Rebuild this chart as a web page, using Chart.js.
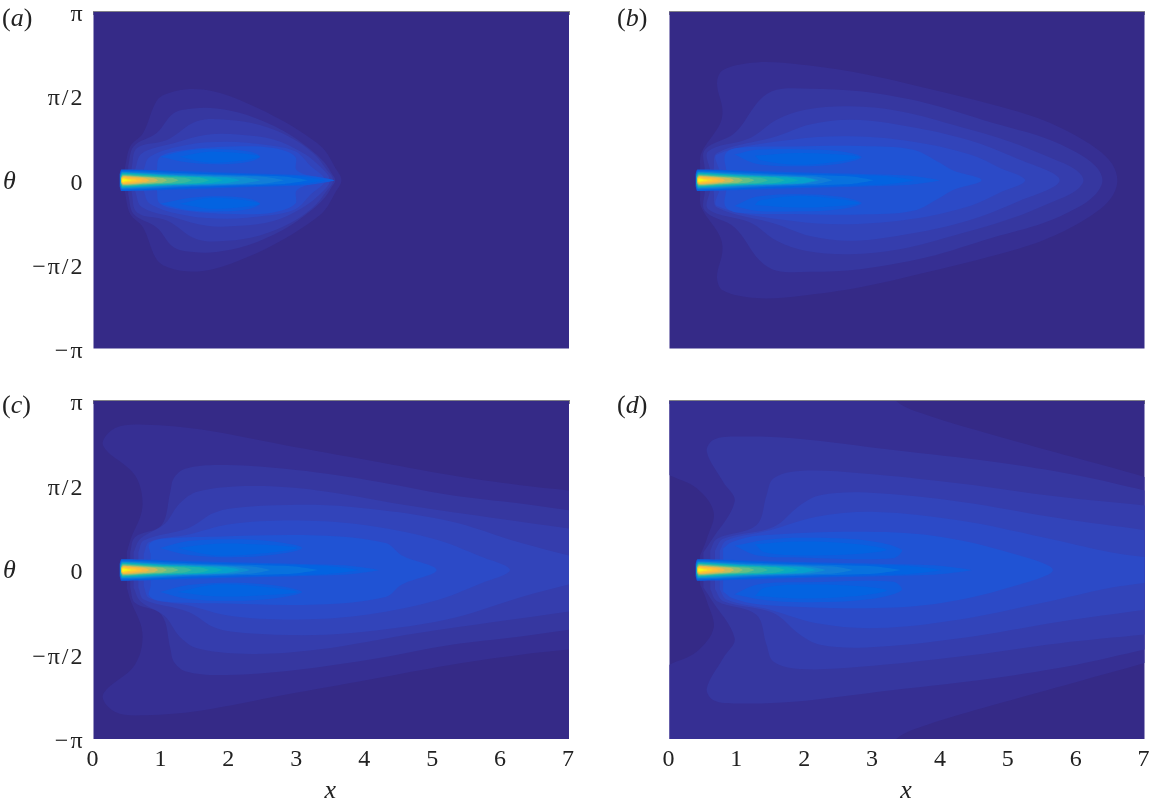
<!DOCTYPE html>
<html>
<head>
<meta charset="utf-8">
<title>Contour panels</title>
<script src="https://cdn.jsdelivr.net/npm/chart.js@4/dist/chart.umd.min.js"></script>
<style>
    html, body { margin: 0; padding: 0; background: #fff; width: 1152px; height: 805px; overflow: hidden; }
    canvas { position: absolute; filter: blur(0.5px); }
    .lbl { position: absolute; font-family: 'Liberation Serif', serif; font-size: 26px; line-height: 28px; color: #222; white-space: pre; }
</style>
</head>
<body>
<canvas id="panel-a" style="left:0;top:0"></canvas>
<canvas id="panel-b" style="left:576px;top:0"></canvas>
<canvas id="panel-c" style="left:0;top:390px"></canvas>
<canvas id="panel-d" style="left:576px;top:390px"></canvas>
<div class="lbl" style="left:2px;top:4px">(<i>a</i>)</div>
<div class="lbl" style="left:617px;top:4px">(<i>b</i>)</div>
<div class="lbl" style="left:2px;top:391px">(<i>c</i>)</div>
<div class="lbl" style="left:617px;top:391px">(<i>d</i>)</div>
<div class="lbl" style="left:3px;top:167px"><i>θ</i></div>
<div class="lbl" style="left:3px;top:556px"><i>θ</i></div>
<script>
// Tick labels
const xTicks = [0, 1, 2, 3, 4, 5, 6, 7];
const thetaTicks = [Math.PI, Math.PI / 2, 0, -Math.PI / 2, -Math.PI];
const thetaTickLabels = ['π', 'π/2', '0', '−π/2', '−π'];

// Contour fill colours, outermost level first (parula)
const background = '#352a87';
const levelColors = ['#362f93', '#3637a0', '#353dad', '#3244ba', '#2c4ac7', '#2053d4'];
const lobeColors = ['#0f5cdd', '#0363e1'];

// Upper half of each contour as [x, theta]
const aLevel1 = [[.46,.22],[.54,.63],[.73,.88],[.91,1.44],[1.03,1.59],[1.37,1.70],[1.76,1.66],[2.26,1.44],[2.80,1.10],[3.24,.74],[3.41,.55],[3.55,.25],[3.65,0]];
const aLevel2 = [[.51,.26],[.59,.63],[.93,.88],[1.18,1.25],[1.47,1.34],[1.81,1.34],[2.26,1.22],[2.80,.92],[3.19,.58],[3.4,.33],[3.5,.14],[3.56,0]];
const aLevel3 = [[.56,.22],[.64,.60],[1.08,.75],[1.52,1.10],[1.96,1.13],[2.45,1.03],[2.90,.80],[3.24,.50],[3.42,.22],[3.53,0]];
const aLevel4 = [[.61,.19],[.71,.50],[1.18,.69],[1.67,.85],[2.16,.85],[2.65,.76],[3.04,.54],[3.3,.30],[3.48,0]];
const aLevel5 = [[.73,.16],[.83,.44],[1.37,.66],[1.96,.72],[2.55,.66],[2.97,.54],[3.2,.26],[3.41,0]];
const aLevel6 = [[.93,.16],[.98,.44],[1.37,.57],[2.06,.63],[2.65,.60],[2.97,.44],[2.99,.19],[3.29,0]];
const aLobe1 = [[.98,.44],[1.4,.56],[1.9,.58],[2.3,.53],[2.45,.44],[2.3,.35],[1.9,.30],[1.4,.33]];
const aLobe2 = [[1.27,.44],[1.7,.53],[2.2,.50],[2.45,.44],[2.2,.37],[1.7,.33]];

const bLevel1 = [[.45,.20],[.47,.51],[.74,1.04],[.78,1.32],[.70,1.81],[.79,2.06],[1.28,2.20],[1.92,2.16],[2.81,2.0],[3.79,1.72],[4.77,1.41],[5.51,1.12],[6.14,.72],[6.49,.36],[6.60,0]];
const bLevel2 = [[.52,.20],[.52,.57],[.96,.88],[1.33,1.50],[1.58,1.69],[2.07,1.71],[2.81,1.66],[3.79,1.44],[4.77,1.07],[5.51,.80],[6.0,.52],[6.28,.26],[6.38,0]];
const bLevel3 = [[.60,.17],[.57,.54],[1.19,.79],[1.58,1.13],[2.02,1.32],[2.66,1.38],[3.39,1.29],[4.28,1.0],[5.02,.72],[5.65,.40],[5.98,.20],[6.10,0]];
const bLevel4 = [[.65,.20],[.70,.51],[1.58,.82],[2.07,1.04],[2.71,1.13],[3.54,1.0],[4.38,.76],[5.11,.41],[5.75,0]];
const bLevel5 = [[.74,.16],[.70,.48],[1.82,.76],[2.66,.82],[3.59,.72],[4.43,.48],[4.87,.23],[5.24,0]];
const bLevel6 = [[.84,.16],[.82,.48],[.99,.60],[1.82,.63],[2.81,.64],[3.59,.57],[3.99,.32],[4.18,.18],[4.60,0]];
const bLobe1 = [[.96,.48],[1.28,.57],[1.92,.58],[2.51,.54],[2.83,.43],[2.51,.31],[1.92,.26],[1.28,.31]];
const bLobe2 = [[1.26,.46],[1.92,.51],[2.6,.47],[2.8,.43],[2.6,.37],[1.92,.29],[1.33,.38]];

const cLevel1 = [[.49,.33],[.54,.55],[.72,1.17],[.61,1.76],[.14,2.32],[.32,2.64],[.76,2.70],[1.59,2.61],[2.82,2.32],[4.05,2.04],[5.27,1.76],[6.26,1.58],[7,1.48],[7.3,1.45]];
const cLevel2 = [[.54,.33],[.61,.61],[1.0,.83],[1.13,1.45],[1.18,1.70],[1.35,1.88],[1.84,1.95],[2.82,1.88],[4.05,1.67],[5.27,1.39],[6.26,1.24],[7,1.11],[7.3,1.06]];
const cLevel3 = [[.59,.33],[.69,.58],[1.05,.86],[1.27,1.24],[1.54,1.46],[2.33,1.56],[3.3,1.48],[4.78,1.17],[7,.77],[7.3,.72]];
const cLevel4 = [[.66,.33],[.74,.55],[1.4,.78],[1.75,1.05],[2.05,1.15],[2.9,1.21],[3.8,1.17],[5.2,.92],[6.3,.5],[7,.27],[7.3,.2]];
const cLevel5 = [[.74,.30],[.82,.52],[1.4,.66],[2.0,.85],[2.9,.92],[3.9,.85],[5.0,.58],[5.7,.25],[6.13,0]];
const cLevel6 = [[.84,.30],[.82,.48],[1.0,.58],[1.8,.62],[3.3,.64],[4.3,.5],[4.54,.27],[5.05,0]];
const cLobe1 = [[.98,.41],[1.4,.54],[2.2,.57],[2.8,.50],[3.07,.41],[2.8,.31],[2.2,.24],[1.4,.28]];
const cLobe2 = [[1.24,.41],[1.8,.49],[2.5,.47],[3.0,.41],[2.5,.31],[1.8,.27]];

const dLevel1 = [[.45,.27],[.55,.58],[.65,1.08],[.40,1.52],[0,1.76],[-.3,1.95],[-.3,3.5],[3.2,3.5],[3.35,3.13],[3.79,2.88],[4.77,2.51],[6.0,2.08],[7,1.73],[7.3,1.6]];
const dLevel2 = [[.5,.33],[.6,.52],[.96,1.27],[.79,1.64],[.55,2.2],[.65,2.42],[.99,2.48],[1.82,2.45],[3.3,2.23],[4.77,2.01],[6.0,1.76],[7,1.48],[7.3,1.4]];
const dLevel3 = [[.6,.36],[.7,.58],[1.28,.83],[1.43,1.39],[1.53,1.70],[1.92,1.84],[2.81,1.80],[4.28,1.61],[5.75,1.36],[7,1.2],[7.3,1.16]];
const dLevel4 = [[.67,.36],[.79,.58],[1.53,.80],[1.92,1.2],[2.22,1.39],[2.9,1.44],[4.28,1.27],[5.75,.96],[7,.74],[7.3,.68]];
const dLevel5 = [[.74,.36],[.84,.55],[1.48,.74],[2.17,.99],[3.05,1.08],[4.28,.92],[5.5,.61],[6.5,.33],[7,.24],[7.3,.2]];
const dLevel6 = [[.79,.40],[.92,.52],[1.33,.64],[2.9,.71],[4.03,.61],[5.16,.27],[5.65,0]];
const dLobe1 = [[.96,.45],[1.4,.56],[2.0,.6],[2.9,.55],[3.42,.38],[3.3,.22],[2.02,.23],[1.3,.27]];
const dLobe2 = [[1.26,.48],[1.9,.53],[2.7,.49],[3.2,.38],[2.8,.3],[2,.27],[1.4,.33]];

// The narrow jet on theta = 0: nested levels, weakest first
const jetColors = ['#0f5cdd', '#0363e1', '#0871de', '#127dd8', '#108ed2', '#06a0cd', '#0aacbe', '#1db3af', '#38b99e', '#65be86', '#92bf73', '#c8bb5c', '#f1b944', '#fdbf37', '#fbd02a', '#f7e81c', '#f9fb0e'];
const jetStartX = [.385, .39, .39, .395, .395, .40, .40, .40, .405, .405, .41, .41, .415, .415, .42, .42, .425];
const jetBaseW = [.20, .19, .175, .16, .15, .14, .13, .12, .11, .10, .09, .08, .07, .06, .05, .04, .03];
const jetMidX = [1.6, 1.5, 1.4, 1.3, 1.2, 1.2, 1.1, 1.0, .9, .8, .75, .7, .6, .55, .5, .47, .44];
const jetMidW = [.16, .14, .125, .11, .10, .09, .085, .08, .075, .07, .065, .06, .055, .045, .035, .025, .018];
const jetNearW = [.09, .08, .07, .065, .06, .055, .05, .05, .045, .04, .04, .035, .03, .025, .02, .015, .01];
const jetTipsHigh = [2.15, 1.9, 1.7, 1.45, 1.25, 1.08, .95, .82, .72, .64, .56, .5];
const aJetTips = [3.55, 3.4, 3.15, 2.8, 2.45];
const bJetTips = [3.98, 3.6, 3.0, 2.4, 2.2];
const cJetTips = [4.2, 3.9, 3.3, 2.6, 2.3];
const dJetTips = [4.45, 4.0, 3.4, 2.7, 2.3];

const toPoint = p => ({ x: p[0], y: p[1] });

// Close an upper-half contour through its mirror image below the axis
function mirrored(upper) {
    const lower = upper.filter(p => p[1] !== 0).reverse().map(p => [p[0], -p[1]]);
    return upper.concat(lower).map(toPoint);
}

function flipped(lobe) {
    return lobe.map(p => [p[0], -p[1]]);
}

function shape(points, color, tension) {
    return {
        data: points,
        showLine: true,
        fill: 'shape',
        backgroundColor: color,
        borderWidth: 0,
        pointRadius: 0,
        tension: tension
    };
}

function buildDatasets(levels, lobes, jetTips) {
    const sets = [];
    levels.forEach((level, i) => sets.push(shape(mirrored(level), levelColors[i], 0.35)));
    lobes.forEach((lobe, i) => {
        const closed = lobe.concat([lobe[0]]);
        sets.push(shape(closed.map(toPoint), lobeColors[i], 0.35));
        sets.push(shape(flipped(closed).map(toPoint), lobeColors[i], 0.35));
    });
    const tips = jetTips.concat(jetTipsHigh);
    jetColors.forEach((color, i) => {
        const near = jetMidX[i] + (tips[i] - jetMidX[i]) * 0.8;
        // rounded shoulder at the jet's blunt left end
        const wedge = [[jetStartX[i], jetBaseW[i] * 0.55], [jetStartX[i] + 0.025, jetBaseW[i]], [jetMidX[i], jetMidW[i]], [near, jetNearW[i]], [tips[i], 0]];
        sets.push(shape(mirrored(wedge), color, 0.15));
    });
    // Chart.js paints the lowest order last, so later shapes must land on top
    sets.forEach((s, i) => { s.order = -i; });
    return sets;
}

const plotBackground = {
    id: 'plotBackground',
    beforeDraw(chart) {
        chart.ctx.letterSpacing = '2px';
    },
    beforeDatasetsDraw(chart) {
        const { ctx, chartArea: a } = chart;
        ctx.save();
        ctx.fillStyle = background;
        ctx.fillRect(a.left, a.top, a.width, a.height);
        ctx.restore();
    }
};

const tickFont = { family: "'Liberation Serif', serif", size: 24 };

function renderPanel(id, opts) {
    const canvas = document.getElementById(id);
    canvas.width = 576;
    canvas.height = opts.height;
    canvas.style.width = '576px';
    canvas.style.height = opts.height + 'px';

    new Chart(canvas, {
        type: 'scatter',
        data: { datasets: buildDatasets(opts.levels, opts.lobes, opts.jetTips) },
        plugins: [plotBackground],
        options: {
            responsive: false,
            animation: false,
            events: [],
            layout: { padding: { top: opts.top, left: 0, right: opts.right, bottom: 0 } },
            plugins: { legend: { display: false }, tooltip: { enabled: false } },
            scales: {
                x: {
                    type: 'linear',
                    min: 0,
                    max: 7,
                    afterBuildTicks: s => { s.ticks = xTicks.map(v => ({ value: v })); },
                    afterFit: s => { s.height = opts.axisHeight; s.paddingLeft = 0; s.paddingRight = 0; },
                    border: { display: false },
                    grid: { display: false, drawTicks: false },
                    ticks: { display: opts.bottom, font: tickFont, color: '#222', padding: 6, maxRotation: 0, autoSkip: false },
                    title: {
                        display: opts.bottom,
                        text: 'x',
                        color: '#222',
                        padding: { top: 0, bottom: -2 },
                        font: { family: "'Liberation Serif', serif", size: 26, style: 'italic' }
                    }
                },
                xTop: {
                    type: 'linear',
                    position: 'top',
                    min: 0,
                    max: 7,
                    afterBuildTicks: s => { s.ticks = xTicks.map(v => ({ value: v })); },
                    afterFit: s => { s.height = 0; s.paddingLeft = 0; s.paddingRight = 0; },
                    border: { display: true, color: '#808088', width: 1.5 },
                    grid: { drawOnChartArea: false, tickLength: -3, color: '#808088' },
                    ticks: { display: false }
                },
                y: {
                    type: 'linear',
                    min: -Math.PI,
                    max: Math.PI,
                    afterBuildTicks: s => { s.ticks = thetaTicks.map(v => ({ value: v })); },
                    afterFit: s => { s.width = opts.leftWidth; s.paddingTop = 0; s.paddingBottom = 0; },
                    border: { display: false },
                    grid: { display: false, drawTicks: false },
                    ticks: {
                        display: opts.left,
                        font: tickFont,
                        color: '#222',
                        padding: 9,
                        labelOffset: 3,
                        autoSkip: false,
                        callback: v => thetaTickLabels[thetaTicks.indexOf(v)]
                    }
                }
            }
        }
    });
}

renderPanel('panel-a', { height: 400, top: 12, axisHeight: 51.5, left: true, leftWidth: 93.5, right: 7, bottom: false,
    levels: [aLevel1, aLevel2, aLevel3, aLevel4, aLevel5, aLevel6], lobes: [aLobe1, aLobe2], jetTips: aJetTips });
renderPanel('panel-b', { height: 400, top: 12, axisHeight: 51.5, left: false, leftWidth: 93.5, right: 7.5, bottom: false,
    levels: [bLevel1, bLevel2, bLevel3, bLevel4, bLevel5, bLevel6], lobes: [bLobe1, bLobe2], jetTips: bJetTips });
renderPanel('panel-c', { height: 415, top: 11, axisHeight: 66, left: true, leftWidth: 93.5, right: 7, bottom: true,
    levels: [cLevel1, cLevel2, cLevel3, cLevel4, cLevel5, cLevel6], lobes: [cLobe1, cLobe2], jetTips: cJetTips });
renderPanel('panel-d', { height: 415, top: 11, axisHeight: 66, left: false, leftWidth: 93.5, right: 7.5, bottom: true,
    levels: [dLevel1, dLevel2, dLevel3, dLevel4, dLevel5, dLevel6], lobes: [dLobe1, dLobe2], jetTips: dJetTips });
</script>
</body>
</html>
